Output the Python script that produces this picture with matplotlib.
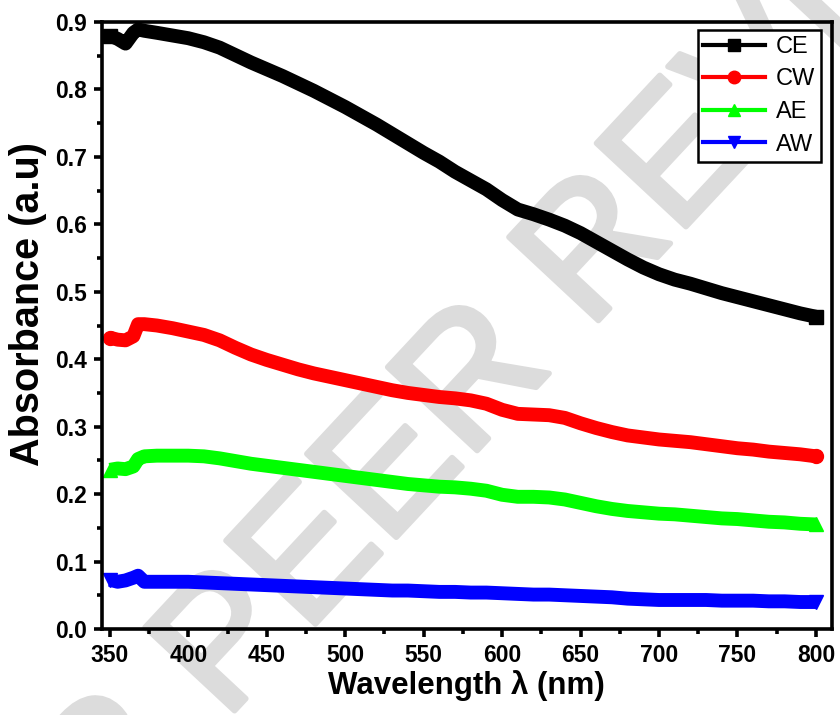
import matplotlib
matplotlib.use("Agg")
import matplotlib.pyplot as plt
import matplotlib.patheffects as pe
from matplotlib.lines import Line2D
from matplotlib.ticker import MultipleLocator

plt.rcParams['font.family'] = ['Liberation Sans', 'DejaVu Sans']

# ---- data ----
wavelength = [350, 355, 360, 365, 368, 372, 380, 390, 400, 410, 420, 430, 440, 450,
              460, 470, 480, 490, 500, 510, 520, 530, 540, 550, 560, 570, 580, 590,
              600, 610, 620, 630, 640, 650, 660, 670, 680, 690, 700, 710, 720, 730,
              740, 750, 760, 770, 780, 790, 800]

CE = [0.880, 0.875, 0.868, 0.884, 0.889, 0.887, 0.884, 0.880, 0.876, 0.870, 0.862, 0.851,
      0.840, 0.830, 0.820, 0.809, 0.798, 0.786, 0.774, 0.761, 0.748, 0.734, 0.720, 0.706,
      0.693, 0.678, 0.665, 0.652, 0.636, 0.622, 0.615, 0.607, 0.598, 0.587, 0.574, 0.561,
      0.548, 0.536, 0.526, 0.518, 0.512, 0.505, 0.498, 0.492, 0.486, 0.480, 0.474, 0.468,
      0.463]

CW = [0.432, 0.429, 0.428, 0.434, 0.452, 0.452, 0.450, 0.446, 0.441, 0.436, 0.428, 0.417,
      0.407, 0.399, 0.392, 0.385, 0.379, 0.374, 0.369, 0.364, 0.359, 0.354, 0.350, 0.347,
      0.344, 0.342, 0.339, 0.334, 0.325, 0.319, 0.318, 0.317, 0.313, 0.305, 0.298, 0.292,
      0.287, 0.284, 0.281, 0.279, 0.277, 0.274, 0.271, 0.268, 0.266, 0.263, 0.261, 0.259,
      0.256]

AE = [0.236, 0.238, 0.237, 0.241, 0.252, 0.256, 0.257, 0.257, 0.257, 0.256, 0.253, 0.249,
      0.245, 0.242, 0.239, 0.236, 0.233, 0.230, 0.227, 0.224, 0.221, 0.218, 0.215, 0.213,
      0.211, 0.210, 0.208, 0.205, 0.199, 0.196, 0.196, 0.195, 0.192, 0.187, 0.182, 0.178,
      0.175, 0.173, 0.171, 0.170, 0.168, 0.166, 0.164, 0.163, 0.161, 0.159, 0.158, 0.156,
      0.155]

AW = [0.073, 0.070, 0.072, 0.076, 0.079, 0.070, 0.070, 0.070, 0.070, 0.069, 0.068, 0.067,
      0.066, 0.065, 0.064, 0.063, 0.062, 0.061, 0.060, 0.059, 0.058, 0.057, 0.057, 0.056,
      0.055, 0.055, 0.054, 0.054, 0.053, 0.052, 0.051, 0.051, 0.050, 0.049, 0.048, 0.047,
      0.045, 0.044, 0.043, 0.043, 0.043, 0.043, 0.042, 0.042, 0.042, 0.041, 0.041, 0.040,
      0.040]

series_names = ["CE", "CW", "AE", "AW"]
series_values = [CE, CW, AE, AW]
series_colors = ["#000000", "#ff0000", "#00ff00", "#0000ff"]
series_markers = ["s", "o", "^", "v"]

x_ticks = [350, 400, 450, 500, 550, 600, 650, 700, 750, 800]
y_ticks = [0.0, 0.1, 0.2, 0.3, 0.4, 0.5, 0.6, 0.7, 0.8, 0.9]

# ---- figure ----
fig = plt.figure(figsize=(8.4, 7.15), dpi=100, facecolor="white")
ax = fig.add_axes([0.1214, 0.1203, 0.8686, 0.8489])
ax.patch.set_alpha(0.0)

# faint watermark behind everything
fig.text(0.452, 0.318, "UNDER PEER REVIEW", rotation=47, fontsize=128,
         color="#dcdcdc", ha="center", va="center", rotation_mode="anchor",
         zorder=-5,
         path_effects=[pe.withStroke(linewidth=4, foreground="#dcdcdc")])

n = len(wavelength)
for name, vals, col, mk in zip(series_names, series_values, series_colors, series_markers):
    ax.plot(wavelength, vals, color=col, lw=10, marker=mk, ms=10, mec=col, mfc=col,
            markevery=[0, n - 1], solid_joinstyle="round", solid_capstyle="butt")

ax.set_xlim(345, 810)
ax.set_ylim(0.0, 0.9)
ax.set_xticks(x_ticks)
ax.set_xticklabels([str(t) for t in x_ticks])
ax.set_yticks(y_ticks)
ax.set_yticklabels([f"{t:.1f}" for t in y_ticks])
ax.xaxis.set_minor_locator(MultipleLocator(25))
ax.yaxis.set_minor_locator(MultipleLocator(0.05))

for sp in ax.spines.values():
    sp.set_linewidth(2.6)
ax.tick_params(which="major", direction="out", length=6, width=2.6, labelsize=16.5, pad=5)
ax.tick_params(which="minor", direction="out", length=3.5, width=2.6)
ax.tick_params(top=False, right=False, which="both")
for lab in ax.get_xticklabels() + ax.get_yticklabels():
    lab.set_fontweight("bold")

ax.set_xlabel("Wavelength \u03bb (nm)", fontsize=22.5, fontweight="bold", labelpad=2)
ax.set_ylabel("Absorbance (a.u)", fontsize=28.5, fontweight="bold")
ax.yaxis.set_label_coords(-0.076, 0.535)

handles = [Line2D([], [], color=c, lw=3, marker=m, ms=9, mec=c, mfc=c)
           for c, m in zip(series_colors, series_markers)]
leg = ax.legend(handles, series_names, loc="upper right", bbox_to_anchor=(0.985, 0.987),
                borderaxespad=0, fontsize=17, handlelength=2.6, handletextpad=0.45,
                labelspacing=0.45, borderpad=0.25, fancybox=False, framealpha=1,
                edgecolor="black")
leg.get_frame().set_linewidth(1.8)

fig.savefig("out.png", dpi=100, facecolor="white")
